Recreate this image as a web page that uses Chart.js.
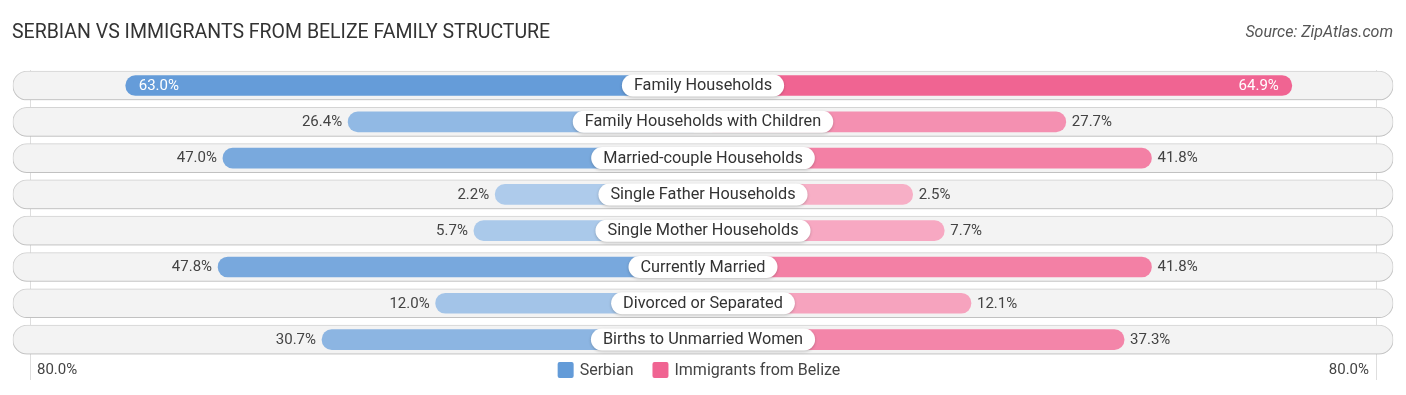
<!DOCTYPE html>
<html>
<head>
<meta charset="utf-8">
<script src="https://cdn.jsdelivr.net/npm/chart.js@4.4.0/dist/chart.umd.min.js"></script>
<style>
  html, body { margin: 0; padding: 0; background: #ffffff; }
  #wrap { position: relative; width: 1406px; height: 395px; }
</style>
</head>
<body>
<div id="wrap"><canvas id="c" width="1406" height="395"></canvas></div>
<script>
// ---- Data ----
const categories = [
  "Family Households",
  "Family Households with Children",
  "Married-couple Households",
  "Single Father Households",
  "Single Mother Households",
  "Currently Married",
  "Divorced or Separated",
  "Births to Unmarried Women"
];
const serbian = [63.0, 26.4, 47.0, 2.2, 5.7, 47.8, 12.0, 30.7];
const belize  = [64.9, 27.7, 41.8, 2.5, 7.7, 41.8, 12.1, 37.3];
const seriesNames = ["Serbian", "Immigrants from Belize"];
const axisLabels = ["80.0%", "80.0%"];
const titleText = "SERBIAN VS IMMIGRANTS FROM BELIZE FAMILY STRUCTURE";
const sourceText = "Source: ZipAtlas.com";

// ---- Layout constants (display only) ----
const OFFSET = 32;      // space hidden behind the centre label, in axis units
const XMAX = 113.6;     // half-width of the row track, in axis units
const BLUE = [99, 155, 216];
const PINK = [240, 100, 146];
const FONT = "Roboto, 'Noto Sans', sans-serif";

function shade(rgb, v, maxV) {
  const a = 0.5 + 0.5 * Math.min(1, v / maxV);
  const c = rgb.map(ch => Math.round(255 - (255 - ch) * a));
  return `rgb(${c[0]},${c[1]},${c[2]})`;
}
const maxAll = Math.max(...serbian, ...belize);

const trackData = categories.map(() => [-XMAX, XMAX]);
const serbData = serbian.map(v => [-(OFFSET + v), 0]);
const belData = belize.map(v => [0, OFFSET + v]);

const decor = {
  id: 'decor',
  beforeDatasetsDraw(chart) {
    const { ctx, scales: { x } } = chart;
    ctx.save();
    ctx.strokeStyle = 'rgba(0,0,0,0.13)';
    ctx.lineWidth = 1;
    const xl = Math.round(x.getPixelForValue(-XMAX) + 17) + 0.5;
    const xr = Math.round(x.getPixelForValue(XMAX) - 17) + 0.5;
    [xl, xr].forEach(px => {
      ctx.beginPath(); ctx.moveTo(px, 70); ctx.lineTo(px, 380); ctx.stroke();
    });
    ctx.restore();
  },
  beforeDatasetDraw(chart, args) {
    if (args.index === 0) {
      const ctx = chart.ctx;
      ctx.save();
      ctx.shadowColor = 'rgba(0,0,0,0.18)';
      ctx.shadowBlur = 3;
      ctx.shadowOffsetY = 1;
    }
  },
  afterDatasetDraw(chart, args) {
    if (args.index === 0) chart.ctx.restore();
  },
  afterDatasetsDraw(chart) {
    const { ctx, scales: { x, y } } = chart;
    const cx = x.getPixelForValue(0);
    ctx.save();
    ctx.textBaseline = 'middle';
    categories.forEach((cat, i) => {
      const cy = y.getPixelForValue(i);
      ctx.font = `16.3px ${FONT}`;
      const tw = ctx.measureText(cat).width;
      const w = tw + 24, h = 22;
      ctx.save();
      ctx.shadowColor = 'rgba(0,0,0,0.22)';
      ctx.shadowBlur = 3;
      ctx.shadowOffsetY = 1;
      ctx.fillStyle = '#ffffff';
      ctx.beginPath();
      ctx.roundRect(cx - w / 2, cy - h / 2, w, h, h / 2);
      ctx.fill();
      ctx.restore();
      ctx.fillStyle = '#333333';
      ctx.textAlign = 'center';
      ctx.fillText(cat, cx, cy + 0.5);

      ctx.font = `15px ${FONT}`;
      const sv = serbian[i], bv = belize[i];
      const sx = x.getPixelForValue(-(OFFSET + sv));
      const bx = x.getPixelForValue(OFFSET + bv);
      if (sv > 55) {
        ctx.fillStyle = '#ffffff'; ctx.textAlign = 'left';
        ctx.fillText(sv.toFixed(1) + '%', sx + 13, cy + 0.5);
      } else {
        ctx.fillStyle = '#444444'; ctx.textAlign = 'right';
        ctx.fillText(sv.toFixed(1) + '%', sx - 6, cy + 0.5);
      }
      if (bv > 55) {
        ctx.fillStyle = '#ffffff'; ctx.textAlign = 'right';
        ctx.fillText(bv.toFixed(1) + '%', bx - 13, cy + 0.5);
      } else {
        ctx.fillStyle = '#444444'; ctx.textAlign = 'left';
        ctx.fillText(bv.toFixed(1) + '%', bx + 6, cy + 0.5);
      }
    });
    ctx.restore();
  },
  afterDraw(chart) {
    const ctx = chart.ctx;
    ctx.save();
    ctx.textBaseline = 'middle';
    ctx.fillStyle = '#333333';
    ctx.font = `19.5px ${FONT}`;
    ctx.textAlign = 'left';
    ctx.fillText(titleText, 12, 33);
    ctx.fillStyle = '#555555';
    ctx.font = `italic 16px ${FONT}`;
    ctx.textAlign = 'right';
    ctx.fillText(sourceText, 1393, 33);
    ctx.fillStyle = '#444444';
    ctx.font = `15px ${FONT}`;
    ctx.textAlign = 'left';
    ctx.fillText(axisLabels[0], 37, 370);
    ctx.textAlign = 'right';
    ctx.fillText(axisLabels[1], 1369, 370);
    ctx.font = `16px ${FONT}`;
    const items = [
      { name: seriesNames[0], color: `rgb(${BLUE.join(',')})` },
      { name: seriesNames[1], color: `rgb(${PINK.join(',')})` }
    ];
    const box = 16, gap1 = 6, gap2 = 19;
    let total = 0;
    items.forEach((it, k) => {
      total += box + gap1 + ctx.measureText(it.name).width + (k < items.length - 1 ? gap2 : 0);
    });
    let lx = 699 - total / 2;
    items.forEach(it => {
      ctx.fillStyle = it.color;
      ctx.beginPath();
      ctx.roundRect(lx, 362, box, box, 2);
      ctx.fill();
      ctx.fillStyle = '#444444';
      ctx.textAlign = 'left';
      ctx.fillText(it.name, lx + box + gap1, 370.5);
      lx += box + gap1 + ctx.measureText(it.name).width + gap2;
    });
    ctx.restore();
  }
};

new Chart(document.getElementById('c'), {
  type: 'bar',
  data: {
    labels: categories,
    datasets: [
      {
        label: 'track',
        data: trackData,
        backgroundColor: '#f3f3f3',
        borderColor: '#dadada',
        borderWidth: 1,
        borderRadius: 15,
        borderSkipped: false,
        barThickness: 29,
        grouped: false,
        order: 3
      },
      {
        label: seriesNames[0],
        data: serbData,
        backgroundColor: serbian.map(v => shade(BLUE, v, maxAll)),
        borderWidth: 0,
        borderRadius: 10,
        borderSkipped: false,
        barThickness: 20,
        grouped: false,
        order: 1
      },
      {
        label: seriesNames[1],
        data: belData,
        backgroundColor: belize.map(v => shade(PINK, v, maxAll)),
        borderWidth: 0,
        borderRadius: 10,
        borderSkipped: false,
        barThickness: 20,
        grouped: false,
        order: 1
      }
    ]
  },
  options: {
    indexAxis: 'y',
    responsive: false,
    animation: false,
    layout: { padding: { left: 12.7, right: 12.7, top: 67.4, bottom: 37.3 } },
    plugins: { legend: { display: false }, tooltip: { enabled: false }, title: { display: false } },
    scales: {
      x: { display: false, min: -XMAX, max: XMAX },
      y: { display: false }
    }
  },
  plugins: [decor]
});
</script>
</body>
</html>
